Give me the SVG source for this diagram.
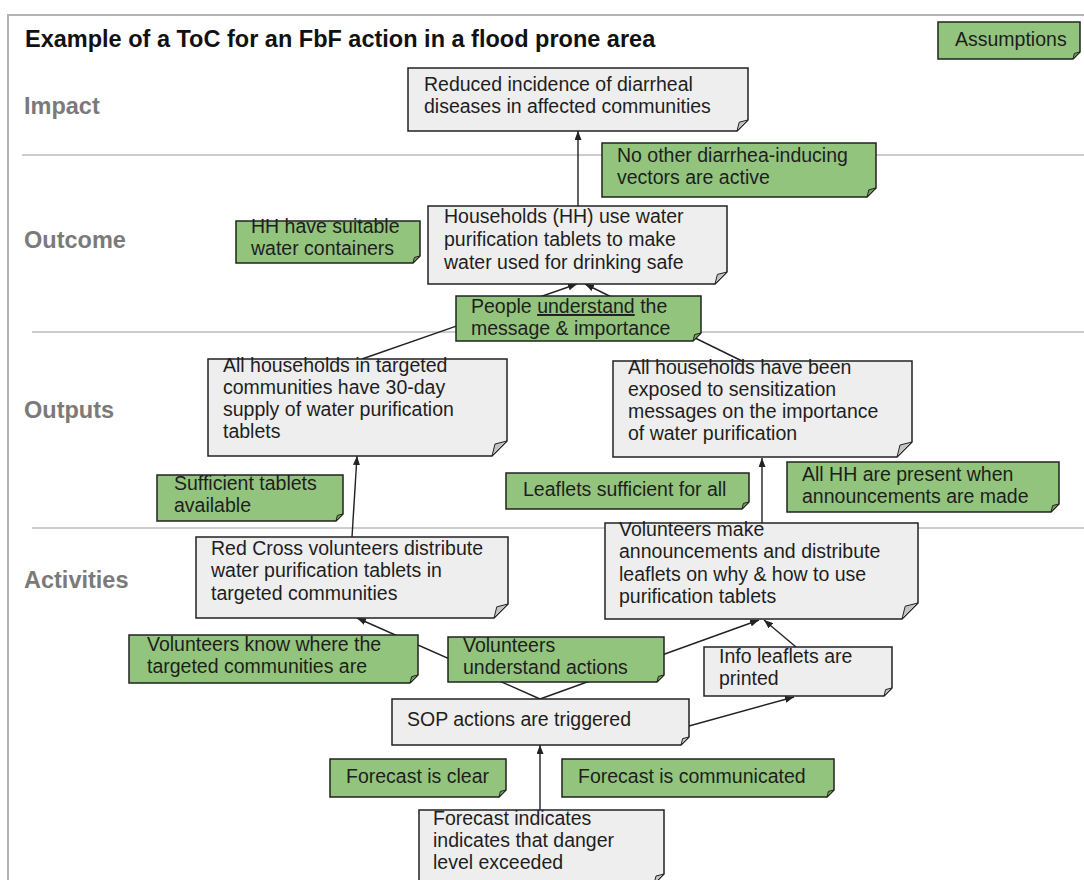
<svg xmlns="http://www.w3.org/2000/svg" width="1084" height="880" viewBox="0 0 1084 880">
<defs>
<style>
.frame{fill:none;stroke:#b4b4b4;stroke-width:2}
.sep{fill:none;stroke:#cdcdcd;stroke-width:2}
.title{font-family:"Liberation Sans",Arial,sans-serif;font-weight:bold;font-size:23.5px;fill:#111}
.lbl{font-family:"Liberation Sans",Arial,sans-serif;font-weight:bold;font-size:23.5px;fill:#7a7a7a}
.t{font-family:"Liberation Sans",Arial,sans-serif;font-size:19.5px;fill:#1e1e1e}
.g{fill:#eeeeee;stroke:#222;stroke-width:1.5}
.gf{fill:#c4c4c4;stroke:#222;stroke-width:1}
.a{fill:#93c47d;stroke:#222;stroke-width:1.5}
.af{fill:#6e9e5a;stroke:#222;stroke-width:1}
.c{fill:none;stroke:#222;stroke-width:1.4}
</style>
<marker id="ah" markerWidth="9" markerHeight="7" refX="9" refY="3.5" orient="auto" markerUnits="userSpaceOnUse"><path d="M0,0 L9,3.5 L0,7 z" fill="#222"/></marker>
</defs>
<rect x="0" y="0" width="1084" height="880" fill="#fff"/>
<path class="frame" d="M8,880 V15 H1084"/>
<path class="sep" d="M22,155 H1084"/>
<path class="sep" d="M32,332 H1084"/>
<path class="sep" d="M32,528 H1084"/>
<text class="title" x="25" y="47">Example of a ToC for an FbF action in a flood prone area</text>
<text class="lbl" x="24" y="114">Impact</text>
<text class="lbl" x="24" y="248">Outcome</text>
<text class="lbl" x="24" y="418">Outputs</text>
<text class="lbl" x="24" y="588">Activities</text>

<g id="connectors">
<path class="c" d="M578,206 L578,131" marker-end="url(#ah)"/>
<path class="c" d="M362,359 L577,284" marker-end="url(#ah)"/>
<path class="c" d="M742,361 L585,284" marker-end="url(#ah)"/>
<path class="c" d="M352,537 L357,456" marker-end="url(#ah)"/>
<path class="c" d="M762,523 L762,458" marker-end="url(#ah)"/>
<path class="c" d="M540,699 L357,618" marker-end="url(#ah)"/>
<path class="c" d="M540,699 L759,620" marker-end="url(#ah)"/>
<path class="c" d="M796,647 L764,620" marker-end="url(#ah)"/>
<path class="c" d="M689,726 L794,697" marker-end="url(#ah)"/>
<path class="c" d="M540,810 L540,745" marker-end="url(#ah)"/>
</g>

<g id="assumptions-legend">
<path class="a" d="M938,22 h142 v30 l-7,7 H938 z"/><path class="af" d="M1080,52 l-7,7 l1.4,-5.6 z"/>
<text class="t" x="955" y="46">Assumptions</text>
</g>
<g id="impact">
<path class="g" d="M408,68 h340 v52 l-11,11 H408 z"/><path class="gf" d="M748,120 l-11,11 l2.2,-8.8 z"/>
<text class="t" x="424" y="91">Reduced incidence of diarrheal</text>
<text class="t" x="424" y="113">diseases in affected communities</text>
</g>
<g id="a-no-other">
<path class="a" d="M602,143 h274 v45 l-9,9 H602 z"/><path class="af" d="M876,188 l-9,9 l1.8,-7.2 z"/>
<text class="t" x="617" y="162">No other diarrhea-inducing</text>
<text class="t" x="617" y="184">vectors are active</text>
</g>
<g id="a-hh-containers">
<path class="a" d="M236,221 h184 v35 l-7,7 H236 z"/><path class="af" d="M420,256 l-7,7 l1.4,-5.6 z"/>
<text class="t" x="251" y="233">HH have suitable</text>
<text class="t" x="251" y="255">water containers</text>
</g>
<g id="outcome">
<path class="g" d="M428,206 h299 v66 l-12,12 H428 z"/><path class="gf" d="M727,272 l-12,12 l2.4,-9.6 z"/>
<text class="t" x="444" y="223">Households (HH) use water</text>
<text class="t" x="444" y="246">purification tablets to make</text>
<text class="t" x="444" y="269">water used for drinking safe</text>
</g>
<g id="a-people">
<path class="a" d="M456,296 h245 v37 l-8,8 H456 z"/><path class="af" d="M701,333 l-8,8 l1.6,-6.4 z"/>
<text class="t" x="471" y="313">People <tspan text-decoration="underline">understand</tspan> the</text>
<text class="t" x="471" y="335">message &amp; importance</text>
</g>
<g id="output-tablets">
<path class="g" d="M208,359 h299 v82 l-15,15 H208 z"/><path class="gf" d="M507,441 l-15,15 l3,-12 z"/>
<text class="t" x="223" y="372">All households in targeted</text>
<text class="t" x="223" y="394">communities have 30-day</text>
<text class="t" x="223" y="416">supply of water purification</text>
<text class="t" x="223" y="438">tablets</text>
</g>
<g id="output-sensitization">
<path class="g" d="M613,361 h299 v81 l-15,15 H613 z"/><path class="gf" d="M912,442 l-15,15 l3,-12 z"/>
<text class="t" x="628" y="374">All households have been</text>
<text class="t" x="628" y="396">exposed to sensitization</text>
<text class="t" x="628" y="418">messages on the importance</text>
<text class="t" x="628" y="440">of water purification</text>
</g>
<g id="a-sufficient-tablets">
<path class="a" d="M157,475 h186 v39 l-7,7 H157 z"/><path class="af" d="M343,514 l-7,7 l1.4,-5.6 z"/>
<text class="t" x="174" y="490">Sufficient tablets</text>
<text class="t" x="174" y="512">available</text>
</g>
<g id="a-leaflets">
<path class="a" d="M506,473 h243 v29 l-7,7 H506 z"/><path class="af" d="M749,502 l-7,7 l1.4,-5.6 z"/>
<text class="t" x="523" y="496">Leaflets sufficient for all</text>
</g>
<g id="a-all-hh">
<path class="a" d="M787,462 h272 v42 l-8,8 H787 z"/><path class="af" d="M1059,504 l-8,8 l1.6,-6.4 z"/>
<text class="t" x="802" y="481">All HH are present when</text>
<text class="t" x="802" y="503">announcements are made</text>
</g>
<g id="activity-distribute">
<path class="g" d="M196,537 h312 v67 l-14,14 H196 z"/><path class="gf" d="M508,604 l-14,14 l2.8,-11.2 z"/>
<text class="t" x="211" y="555">Red Cross volunteers distribute</text>
<text class="t" x="211" y="577">water purification tablets in</text>
<text class="t" x="211" y="600">targeted communities</text>
</g>
<g id="activity-announce">
<path class="g" d="M605,523 h313 v80 l-16,16 H605 z"/><path class="gf" d="M918,603 l-16,16 l3.2,-12.8 z"/>
<text class="t" x="619" y="536">Volunteers make</text>
<text class="t" x="619" y="558">announcements and distribute</text>
<text class="t" x="619" y="581">leaflets on why &amp; how to use</text>
<text class="t" x="619" y="603">purification tablets</text>
</g>
<g id="a-volunteers-know">
<path class="a" d="M129,635 h289 v40 l-8,8 H129 z"/><path class="af" d="M418,675 l-8,8 l1.6,-6.4 z"/>
<text class="t" x="147" y="651">Volunteers know where the</text>
<text class="t" x="147" y="673">targeted communities are</text>
</g>
<g id="a-volunteers-understand">
<path class="a" d="M448,637 h216 v38 l-7,7 H448 z"/><path class="af" d="M664,675 l-7,7 l1.4,-5.6 z"/>
<text class="t" x="463" y="652">Volunteers</text>
<text class="t" x="463" y="674">understand actions</text>
</g>
<g id="info-leaflets">
<path class="g" d="M704,647 h188 v41 l-8,8 H704 z"/><path class="gf" d="M892,688 l-8,8 l1.6,-6.4 z"/>
<text class="t" x="719" y="663">Info leaflets are</text>
<text class="t" x="719" y="685">printed</text>
</g>
<g id="sop">
<path class="g" d="M392,699 h297 v38 l-8,8 H392 z"/><path class="gf" d="M689,737 l-8,8 l1.6,-6.4 z"/>
<text class="t" x="407" y="726">SOP actions are triggered</text>
</g>
<g id="a-forecast-clear">
<path class="a" d="M330,759 h176 v31 l-7,7 H330 z"/><path class="af" d="M506,790 l-7,7 l1.4,-5.6 z"/>
<text class="t" x="346" y="783">Forecast is clear</text>
</g>
<g id="a-forecast-communicated">
<path class="a" d="M562,759 h272 v31 l-7,7 H562 z"/><path class="af" d="M834,790 l-7,7 l1.4,-5.6 z"/>
<text class="t" x="578" y="783">Forecast is communicated</text>
</g>
<g id="forecast-trigger">
<path class="g" d="M419,810 h245 v64 l-10,10 H419 z"/><path class="gf" d="M664,874 l-10,10 l2,-8 z"/>
<text class="t" x="433" y="825">Forecast indicates</text>
<text class="t" x="433" y="847">indicates that danger</text>
<text class="t" x="433" y="869">level exceeded</text>
</g>
</svg>
